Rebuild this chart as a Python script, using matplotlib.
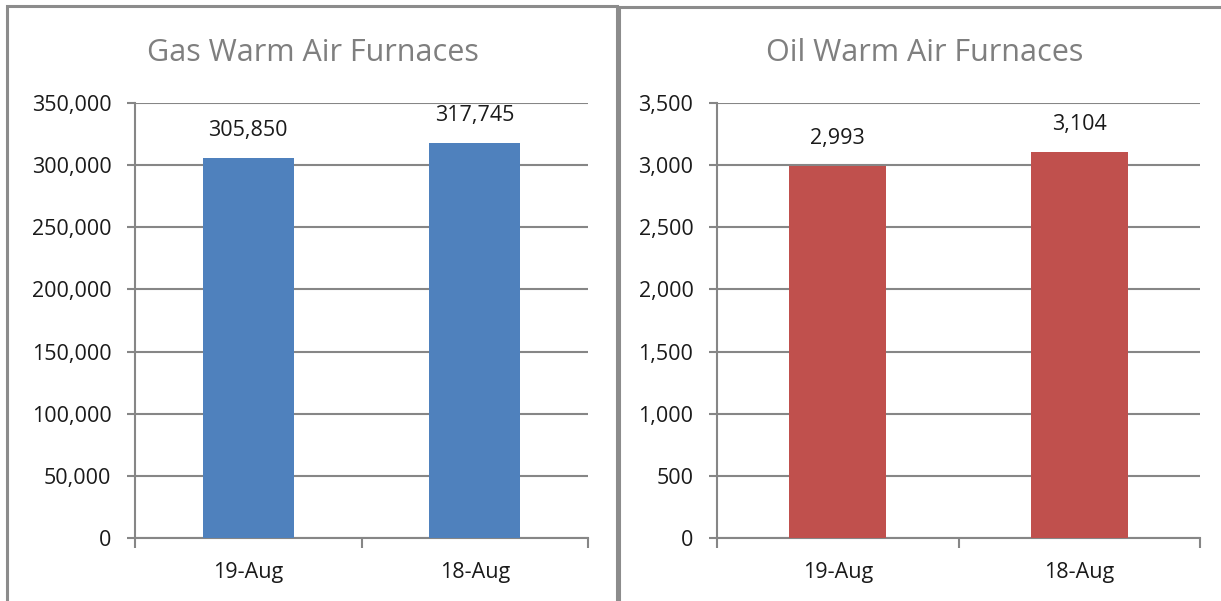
import matplotlib
matplotlib.use("Agg")
import matplotlib.pyplot as plt
from matplotlib.patches import Rectangle
from matplotlib.ticker import FuncFormatter, MultipleLocator

plt.rcParams['font.family'] = ['Open Sans', 'DejaVu Sans']

categories = ["19-Aug", "18-Aug"]
gas_values = [305850, 317745]
oil_values = [2993, 3104]
gas_title = "Gas Warm Air Furnaces"
oil_title = "Oil Warm Air Furnaces"

W, H = 1221, 601
fig = plt.figure(figsize=(W / 100, H / 100), dpi=100)

def fx(px):
    return px / W

def fy(py):
    return 1 - py / H

border = "#8c8c8c"
fig.add_artist(Rectangle((fx(7), fy(640)), fx(610), fy(6) - fy(640), transform=fig.transFigure,
                         fill=False, edgecolor=border, linewidth=2.2, clip_on=False))
fig.add_artist(Rectangle((fx(619), fy(640)), fx(640), fy(7) - fy(640), transform=fig.transFigure,
                         fill=False, edgecolor=border, linewidth=2.2, clip_on=False))

FS = 15.5
TXT = "#1a1a1a"

def panel(x0, x1, values, title, color, ymax, step, title_x):
    ax = fig.add_axes([fx(x0), fy(538), fx(x1) - fx(x0), fy(103) - fy(538)])
    xs = list(range(len(values)))
    ax.bar(xs, values, width=0.4, color=color, zorder=3)
    ax.set_xlim(-0.5, len(values) - 0.5)
    ax.set_ylim(0, ymax)
    ax.yaxis.set_major_locator(MultipleLocator(step))
    ax.yaxis.set_major_formatter(FuncFormatter(lambda v, p: f"{int(v):,}"))
    ax.set_xticks(xs)
    ax.set_xticklabels(categories)
    ax.set_xticks([-0.5, 0.5, 1.5], minor=True)
    ax.tick_params(axis='x', which='major', length=0, pad=17, labelsize=FS, labelcolor=TXT)
    ax.tick_params(axis='x', which='minor', length=7, width=1.5, color="#868686", direction='out')
    ax.tick_params(axis='y', length=6, width=1.5, color="#868686", pad=11, labelsize=FS,
                   labelcolor=TXT)
    ax.grid(axis='y', color="#868686", linewidth=1.5, zorder=0)
    for s in ['top', 'right']:
        ax.spines[s].set_visible(False)
    for s in ['left', 'bottom']:
        ax.spines[s].set_color("#868686")
        ax.spines[s].set_linewidth(1.5)
    for x, v in zip(xs, values):
        ax.annotate(f"{v:,}", (x, v), xytext=(0, 16), textcoords='offset points',
                    ha='center', va='baseline', fontsize=FS, color=TXT)
    fig.text(fx(title_x), fy(61), title, ha='center', va='baseline', fontsize=22, color="#7f7f7f")
    return ax

panel(135, 588, gas_values, gas_title, "#4f81bd", 350000, 50000, 313)
panel(717, 1200, oil_values, oil_title, "#c0504d", 3500, 500, 925)

fig.savefig("out.png", dpi=100)
